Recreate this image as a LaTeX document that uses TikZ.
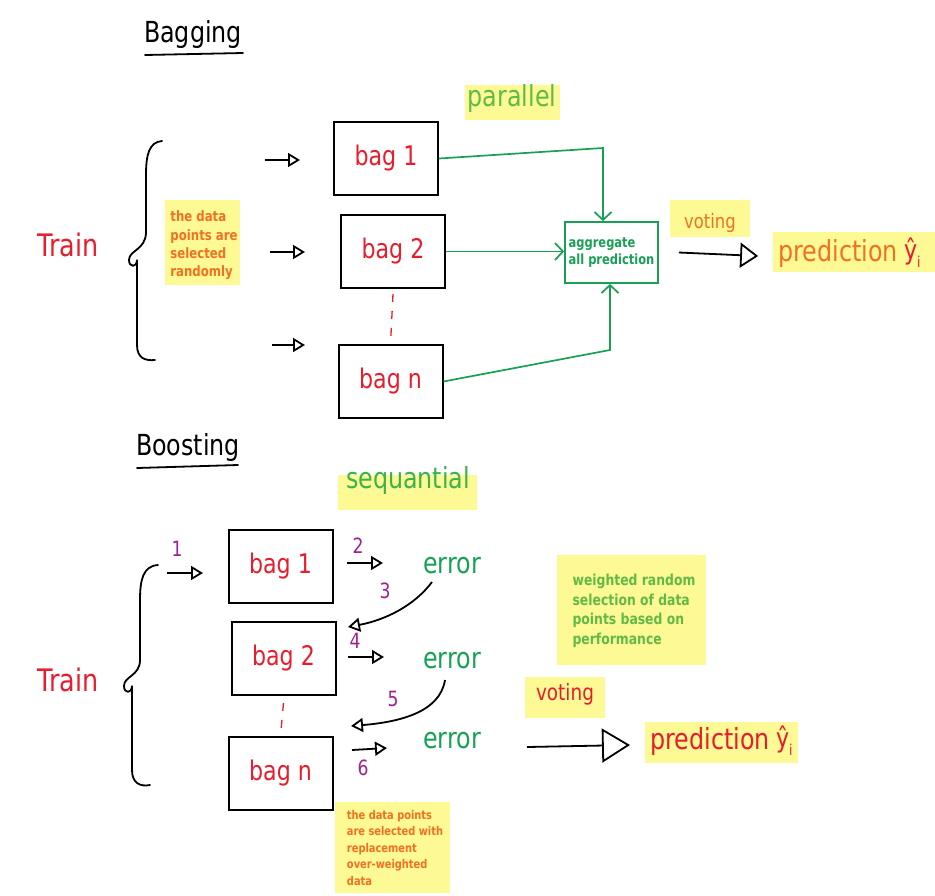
\documentclass[tikz,border=0pt]{standalone}
\usepackage{fontspec}
\setmainfont{DejaVu Sans}[FakeStretch=0.82]
\usetikzlibrary{arrows.meta}
\definecolor{hl}{RGB}{253,250,150}
\definecolor{tred}{RGB}{232,28,44}
\definecolor{torange}{RGB}{243,112,33}
\definecolor{tgreen}{RGB}{24,160,85}
\definecolor{lgreen}{RGB}{98,186,70}
\definecolor{sgreen}{RGB}{60,178,75}
\definecolor{tpurple}{RGB}{163,32,142}
\newcommand{\myfs}[2]{\fontsize{#1}{#2}\selectfont}
\newcommand{\yhati}{ŷ\raisebox{-0.3em}{\myfs{15}{17}i}}
\begin{document}
\begin{tikzpicture}[x=1pt,y=-1pt,
  bagbox/.style={draw=black, line width=2pt, minimum width=104pt, minimum height=73pt, text=tred, font=\myfs{27}{30}},
  title/.style={font=\myfs{29}{32}, inner sep=0pt},
  trainlbl/.style={text=tred, font=\myfs{31}{34}},
  errlbl/.style={text=tgreen, font=\myfs{29}{32}},
  num/.style={text=tpurple, font=\myfs{21}{24}},
  note/.style 2 args={align=left, font=\bfseries\myfs{#1}{#2}, inner sep=0pt},
  sarrow/.style={line width=1.8pt, -{Triangle[open,length=12pt,width=14pt]}},
  garrow/.style={draw=tgreen, line width=1.7pt, -{Straight Barb[length=8pt,width=17pt]}},
  brace/.style={line width=1.8pt, line cap=round},
  rdash/.style={draw=tred, line width=1.3pt, dash pattern=on 8pt off 9pt}
]
\useasboundingbox (0,0) rectangle (935,895);
\fill[white] (0,0) rectangle (935,895);

% ================= Bagging =================
\node[title] (tbag) at (193,34) {Bagging};
\draw[line width=1.8pt, line cap=round] (145,55) -- (243,53);

\node[trainlbl] (train1) at (68,245) {Train};
\draw[brace] (162,141) .. controls (149,142) and (146,155) .. (146,175) -- (146,232)
  .. controls (146,250) and (129,250) .. (129,260) .. controls (129,268) and (137,267) .. (137,261)
  .. controls (137,257) and (137,262) .. (137,275) -- (137,345)
  .. controls (137,358) and (145,361) .. (155,360);

\fill[hl] (165,200) rectangle (240,285);
\node[note={14.3}{18.3}, text=torange] (n1) at (204,245.5) {the data\\points are\\selected\\randomly};

\coordinate (a1s) at (265,160); \coordinate (a1e) at (300,160);
\coordinate (a2s) at (270,252); \coordinate (a2e) at (305,252);
\coordinate (a3s) at (272,345); \coordinate (a3e) at (305,345);
\draw[sarrow] (a1s) -- (a1e);
\draw[sarrow] (a2s) -- (a2e);
\draw[sarrow] (a3s) -- (a3e);

\node[bagbox] (b1) at (386,158.5) {bag 1};
\node[bagbox] (b2) at (393,251.5) {bag 2};
\node[bagbox] (bn) at (390.5,381.5) {bag n};
\draw[rdash] ([yshift=-5pt]b2.south) -- (bn.north);

\fill[hl] (465,85) rectangle (560,120);
\node[text=lgreen, font=\myfs{29}{32}, inner sep=0pt] (par) at (512,98) {parallel};

\node[draw=tgreen, line width=1.7pt, minimum width=93pt, minimum height=61pt, text=tgreen, align=left, font=\bfseries\myfs{14}{17}] (agg) at (611.5,252.5) {aggregate\\all prediction};

\coordinate (g1) at (603,148);
\coordinate (g3) at (610,350);
\draw[garrow] (b1.east) -- (g1) -- (g1 |- agg.north);
\draw[garrow] (b2.east) -- (b2.east -| agg.west);
\draw[garrow] (bn.east) -- (g3) -- (g3 |- agg.south);

\fill[hl] (670,200) rectangle (750,237);
\node[text=torange, font=\myfs{20}{24}, inner sep=0pt] (vote1) at (710,223) {voting};

\fill[hl] (773,232) rectangle (935,272);
\node[text=torange, font=\myfs{29}{32}, inner sep=0pt] (pred1) at (838,253) {prediction};
\node[text=tred, font=\myfs{27}{30}, inner sep=0pt, anchor=west] (yh1) at ([xshift=6pt]pred1.east) {\yhati};

\draw[line width=1.8pt, -{Triangle[open,length=18pt,width=25pt]}] ([xshift=20pt]agg.east) -- ([xshift=-20pt,yshift=-3pt]pred1.west);

% ================= Boosting =================
\node[title] (tboost) at (188,447) {Boosting};
\draw[line width=1.8pt, line cap=round] (137,468) -- (238,465);

\fill[hl] (338,475) rectangle (477,510);
\node[text=sgreen, font=\myfs{29}{32}, inner sep=0pt] (seq) at (408,480) {sequantial};

\node[trainlbl] (train2) at (68,680) {Train};
\draw[brace] (158,565) .. controls (143,566) and (140,580) .. (140,600) -- (140,660)
  .. controls (140,676) and (124,676) .. (124,686) .. controls (124,694) and (132,693) .. (132,687)
  .. controls (132,683) and (132,688) .. (132,700) -- (132,770)
  .. controls (132,783) and (140,787) .. (150,785);

\node[bagbox] (c1) at (280.5,566.5) {bag 1};
\node[bagbox] (c2) at (283.5,658.5) {bag 2};
\node[bagbox] (cn) at (280.5,773.5) {bag n};
\draw[rdash] ([yshift=-7pt]c2.south) -- (cn.north);

\node[num] (k1) at (177,549) {1};
\coordinate (s1s) at (167,573); \coordinate (s1e) at (203,573);
\draw[sarrow] (s1s) -- (s1e);

\node[num] (k2) at (358,546) {2};
\coordinate (s2s) at (347,563); \coordinate (s2e) at (383,563);
\draw[sarrow] (s2s) -- (s2e);
\node[errlbl] (e1) at (452,566) {error};

\node[num] (k3) at (385,591) {3};
\coordinate (s3s) at (432,582); \coordinate (s3e) at (348,627);
\draw[sarrow] (s3s) .. controls (414,606) and (385,620) .. (s3e);

\node[num] (k4) at (355,641) {4};
\coordinate (s4s) at (348,657); \coordinate (s4e) at (384,657);
\draw[sarrow] (s4s) -- (s4e);
\node[errlbl] (e2) at (452,661) {error};

\node[num] (k5) at (393,699) {5};
\coordinate (s5s) at (445,680); \coordinate (s5e) at (351,726);
\draw[sarrow] (s5s) .. controls (440,712) and (400,722) .. (s5e);

\coordinate (s6s) at (352,750); \coordinate (s6e) at (387,748);
\draw[sarrow] (s6s) -- (s6e);
\node[num] (k6) at (363,768) {6};
\node[errlbl] (e3) at (452,741) {error};

\fill[hl] (557,555) rectangle (706,665);
\node[note={15.1}{19.5}, text=lgreen] (n2) at (634,611) {weighted random\\selection of data\\points based on\\performance};

\fill[hl] (525,677) rectangle (605,718);
\node[text=tred, font=\myfs{22.5}{26}, inner sep=0pt] (vote2) at (565,694) {voting};

\fill[hl] (645,722) rectangle (798,763);
\node[text=tred, font=\myfs{29}{32}, inner sep=0pt] (pred2) at (710,741) {prediction};
\node[text=tred, font=\myfs{27}{30}, inner sep=0pt, anchor=west] (yh2) at ([xshift=6pt]pred2.east) {\yhati};

\coordinate (v2s) at (527,747); \coordinate (v2e) at (630,745);
\draw[line width=1.8pt, -{Triangle[open,length=28pt,width=34pt]}] (v2s) -- (v2e);

\fill[hl] (335,802) rectangle (450,893);
\node[note={12}{16.5}, text=torange] (n3) at (395,848) {the data points\\are selected with\\replacement\\over-weighted\\data};
\end{tikzpicture}
\end{document}
